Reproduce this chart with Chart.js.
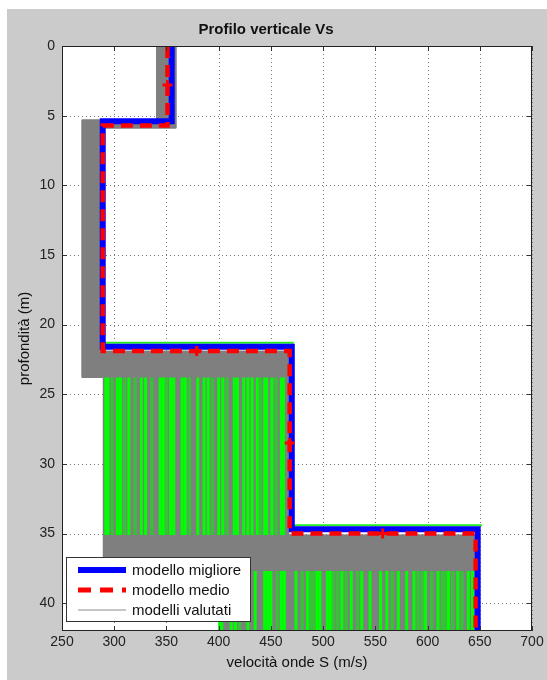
<!DOCTYPE html>
<html lang="it">
<head>
<meta charset="UTF-8">
<title>Profilo verticale Vs</title>
<script src="https://cdn.jsdelivr.net/npm/chart.js@4.4.1/dist/chart.umd.min.js"></script>
<style>
body { margin: 0; background: #fff; }
.wrap { width: 547px; height: 680px; position: relative; }
</style>
</head>
<body>
<div class="wrap"><canvas id="vsChart"></canvas></div>
<script>
// best and mean model: Vs of each layer (m/s) and layer boundaries (m)
const bestVs = [355, 289, 470, 648];
const bestDepth = [0, 5.4, 21.6, 34.7, 42];
const meanVs = [351, 289, 468, 646];
const meanDepth = [0, 5.7, 21.9, 35.0, 42];

// small markers on the mean model
const markVs = [351, 379, 468, 557];
const markDepth = [2.8, 21.9, 28.5, 35.0];

// outline of the grey cloud of evaluated models
const cloudTopVs = [340, 359, 359, 287, 287, 468, 468, 269, 269, 340];
const cloudTopDepth = [0, 0, 5.9, 5.9, 21.9, 21.9, 23.8, 23.8, 5.3, 5.3];
const cloudMidVs = [289, 467, 467, 645, 645, 289];
const cloudMidDepth = [23.8, 23.8, 35.1, 35.1, 37.7, 37.7];
const cloudLowVs = [400, 648, 648, 400];
const cloudLowDepth = [37.7, 37.7, 42, 42];

// green models (layer 3 and half-space), Vs values
const green3 = [292, 294, 303, 306, 314, 326, 330, 344, 347, 354, 357, 365, 368, 380,
  386, 390, 400, 404, 415, 418, 424, 428, 432, 437, 444, 446, 451, 460, 462];
const green3Dark = [298, 310, 320, 336, 350, 372, 394, 408, 440, 455];
const green3Depth = [23.8, 35.1];
const green4 = [401, 403, 412, 416, 428, 435, 444, 447, 450, 460, 463, 474, 485, 494,
  497, 504, 507, 518, 527, 537, 545, 555, 561, 572, 580, 587, 598, 610, 620, 629, 639, 643];
const green4Dark = [420, 456, 480, 488, 491, 510, 514, 522, 533, 566, 591, 595, 604, 614, 617, 624, 633];
const green4Depth = [37.7, 42];

// thin green profile just above the best one
const edgeVs = [290, 472, null, 470, 652];
const edgeDepth = [21.3, 21.3, null, 34.4, 34.4];

const FONT = "'Liberation Sans', Arial, Helvetica, sans-serif";

function stepPoints(vs, depth) {
  const pts = [];
  vs.forEach((v, i) => { pts.push({x: v, y: depth[i]}, {x: v, y: depth[i + 1]}); });
  return pts;
}
function polyPoints(vs, depth) {
  return vs.map((v, i) => ({x: v, y: depth[i]}));
}
function stripePoints(vs, depth) {
  const pts = [];
  vs.forEach(v => { pts.push({x: v, y: depth[0]}, {x: v, y: depth[1]}, {x: null, y: null}); });
  return pts;
}

function cloud(vs, depth) {
  return {
    label: 'modelli valutati', data: polyPoints(vs, depth), showLine: true,
    borderColor: '#7f7f7f', borderWidth: 1, backgroundColor: '#7f7f7f',
    fill: 'shape', pointRadius: 0, order: 5
  };
}
function stripes(vs, depth, color, w) {
  return {
    label: 'verdi', data: stripePoints(vs, depth), showLine: true, spanGaps: false,
    borderColor: color, borderWidth: w, borderCapStyle: 'butt', pointRadius: 0, order: 4
  };
}

const datasets = [
  cloud(cloudTopVs, cloudTopDepth),
  cloud(cloudMidVs, cloudMidDepth),
  cloud(cloudLowVs, cloudLowDepth),
  stripes(green3Dark, green3Depth, '#38c038', 3.5),
  stripes(green3, green3Depth, '#00ff00', 3),
  stripes(green4Dark, green4Depth, '#38c038', 3.5),
  stripes(green4, green4Depth, '#00ff00', 3),
  {
    label: 'bordo', data: polyPoints(edgeVs, edgeDepth), showLine: true, spanGaps: false,
    borderColor: '#22ee22', borderWidth: 2, pointRadius: 0, order: 3
  },
  {
    label: 'modello migliore', data: stepPoints(bestVs, bestDepth), showLine: true,
    borderColor: '#0000ff', borderWidth: 6, borderJoinStyle: 'miter', borderCapStyle: 'butt',
    pointRadius: 0, order: 2
  },
  {
    label: 'modello medio', data: stepPoints(meanVs, meanDepth), showLine: true,
    borderColor: '#ff0000', borderWidth: 4.5, borderDash: [12, 7], borderJoinStyle: 'miter',
    borderCapStyle: 'butt', pointRadius: 0, order: 1
  },
  {
    label: 'marker', data: polyPoints(markVs, markDepth), showLine: false,
    pointStyle: 'cross', pointRadius: 5, borderColor: '#ff0000', borderWidth: 3, order: 0
  }
];

// legend entries drawn inside the axes, like the original figure
const legendRows = [
  {text: 'modello migliore', color: '#0000ff', width: 6, dash: []},
  {text: 'modello medio', color: '#ff0000', width: 5, dash: [13, 9]},
  {text: 'modelli valutati', color: '#8c8c8c', width: 1, dash: []}
];

const figurePlugin = {
  id: 'figure',
  beforeDraw(chart) {
    const {ctx, width, height, chartArea: a} = chart;
    ctx.save();
    ctx.fillStyle = '#ffffff';
    ctx.fillRect(0, 0, width, height);
    ctx.fillStyle = '#cbcbcb';
    ctx.fillRect(7, 9, width - 7, height - 9);
    ctx.fillStyle = '#ffffff';
    ctx.fillRect(a.left, a.top, a.right - a.left, a.bottom - a.top);
    ctx.restore();
  },
  beforeDatasetsDraw(chart) {
    // dotted grid, matlab style
    const {ctx, chartArea: a, scales} = chart;
    ctx.save();
    ctx.strokeStyle = '#7a7a7a';
    ctx.lineWidth = 1;
    ctx.setLineDash([1, 3]);
    ctx.beginPath();
    scales.x.ticks.forEach(t => {
      const px = Math.round(scales.x.getPixelForValue(t.value)) + 0.5;
      ctx.moveTo(px, a.bottom); ctx.lineTo(px, a.top);
    });
    scales.y.ticks.forEach(t => {
      const py = Math.round(scales.y.getPixelForValue(t.value)) + 0.5;
      ctx.moveTo(a.left, py); ctx.lineTo(a.right, py);
    });
    ctx.stroke();
    ctx.restore();
  },
  afterDraw(chart) {
    const {ctx, chartArea: a, scales} = chart;
    ctx.save();
    // inner tick marks on all four sides
    ctx.strokeStyle = '#333';
    ctx.lineWidth = 1;
    ctx.beginPath();
    scales.x.ticks.forEach(t => {
      const px = Math.round(scales.x.getPixelForValue(t.value)) + 0.5;
      ctx.moveTo(px, a.bottom); ctx.lineTo(px, a.bottom - 5);
      ctx.moveTo(px, a.top); ctx.lineTo(px, a.top + 5);
    });
    scales.y.ticks.forEach(t => {
      const py = Math.round(scales.y.getPixelForValue(t.value)) + 0.5;
      ctx.moveTo(a.left, py); ctx.lineTo(a.left + 5, py);
      ctx.moveTo(a.right, py); ctx.lineTo(a.right - 5, py);
    });
    ctx.stroke();
    ctx.strokeStyle = '#222';
    ctx.strokeRect(a.left + 0.5, a.top + 0.5, a.right - a.left - 1, a.bottom - a.top - 1);

    // legend box
    const bx = a.left + 4, by = a.bottom - 74, bw = 184, bh = 64;
    ctx.fillStyle = '#ffffff';
    ctx.fillRect(bx, by, bw, bh);
    ctx.strokeStyle = '#333';
    ctx.strokeRect(bx + 0.5, by + 0.5, bw, bh);
    ctx.font = '15px ' + FONT;
    ctx.textBaseline = 'middle';
    legendRows.forEach((r, i) => {
      const y = by + 13 + i * 20;
      ctx.beginPath();
      ctx.strokeStyle = r.color;
      ctx.lineWidth = r.width;
      ctx.setLineDash(r.dash);
      ctx.moveTo(bx + 12, y); ctx.lineTo(bx + 60, y);
      ctx.stroke();
      ctx.setLineDash([]);
      ctx.fillStyle = '#111';
      ctx.fillText(r.text, bx + 66, y + 1);
    });
    ctx.restore();
  }
};

new Chart(document.getElementById('vsChart'), {
  type: 'scatter',
  data: { datasets: datasets },
  plugins: [figurePlugin],
  options: {
    responsive: true,
    maintainAspectRatio: false,
    animation: false,
    layout: { padding: { left: 0, right: 15, top: 0, bottom: 0 } },
    plugins: {
      legend: { display: false },
      tooltip: { enabled: false },
      title: {
        display: true,
        text: 'Profilo verticale Vs',
        color: '#111',
        font: { family: FONT, size: 15, weight: 'bold' },
        padding: { top: 21, bottom: 7 }
      }
    },
    scales: {
      x: {
        type: 'linear', min: 250, max: 700,
        afterFit: s => { s.height = 49; },
        ticks: { stepSize: 50, maxRotation: 0, padding: 3, color: '#222', font: { family: FONT, size: 14 } },
        grid: { display: false, drawTicks: false },
        border: { display: false },
        title: { display: true, text: 'velocità onde S (m/s)', color: '#111',
          font: { family: FONT, size: 15 }, padding: { top: 0, bottom: 8 } }
      },
      y: {
        type: 'linear', min: 0, max: 42, reverse: true,
        afterFit: s => { s.width = 62; },
        afterBuildTicks: s => { s.ticks = s.ticks.filter(t => t.value % 5 === 0); },
        ticks: { stepSize: 5, padding: 7, color: '#222', font: { family: FONT, size: 14 } },
        grid: { display: false, drawTicks: false },
        border: { display: false },
        title: { display: true, text: 'profondità (m)', color: '#111',
          font: { family: FONT, size: 15 }, padding: { top: 16, bottom: 0 } }
      }
    }
  }
});
</script>
</body>
</html>
